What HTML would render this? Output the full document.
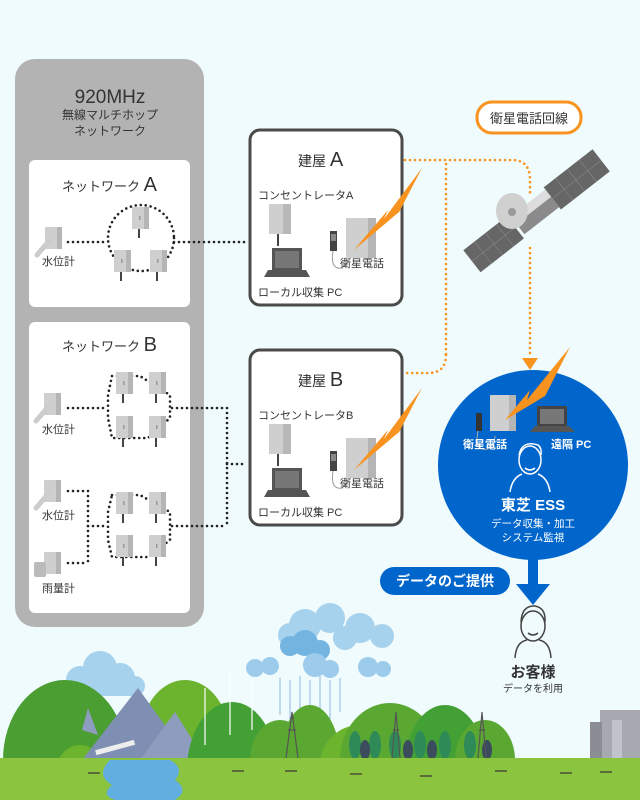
<!DOCTYPE html>
<html><head><meta charset="utf-8"><style>
html,body{margin:0;padding:0;background:#effbfd}
svg{display:block}
text{font-family:"Liberation Sans","Noto Sans CJK JP",sans-serif;fill:#333}
</style></head><body>
<svg width="640" height="800" viewBox="0 0 640 800" xmlns="http://www.w3.org/2000/svg">
<defs>
<g id="cab"><rect x="0" y="0" width="17" height="22" fill="#cfcfcf"/><rect x="12" y="0" width="5" height="22" fill="#b5b5b5"/><rect x="7" y="9" width="1.5" height="4" fill="#999"/><rect x="6" y="22" width="2" height="9" fill="#444"/></g>
<g id="sens"><rect x="0" y="0" width="17" height="22" fill="#cfcfcf"/><rect x="12" y="0" width="5" height="22" fill="#b5b5b5"/><line x1="4" y1="14" x2="-8" y2="28" stroke="#ccc" stroke-width="5" stroke-linecap="round"/></g>
<g id="bld">
<rect x="0" y="0" width="152" height="175" rx="10" fill="#fff" stroke="#4a4a4a" stroke-width="3"/>
<rect x="19" y="74" width="22" height="30" fill="#cfcfcf"/><rect x="33" y="74" width="8" height="30" fill="#b8b8b8"/><rect x="27" y="104" width="2" height="12" fill="#444"/>
<rect x="22" y="118" width="30" height="22" fill="#555"/><rect x="25" y="121" width="24" height="17" fill="#777"/><polygon points="18,140 56,140 60,147 14,147" fill="#555"/>
<rect x="80" y="101" width="7" height="20" fill="#444"/><rect x="81" y="104" width="5" height="7" fill="#888"/><path d="M83,121 Q80,140 92,138 Q100,130 102,125" fill="none" stroke="#999" stroke-width="1"/>
<rect x="96" y="88" width="30" height="40" fill="#cfcfcf"/><rect x="118" y="88" width="8" height="40" fill="#b5b5b5"/>
<polygon points="104,120 138,80 134,89 172,38 145,90 149,82" fill="#f7931e"/>
<text x="90" y="137" font-size="11">衛星電話</text>
<text x="8" y="166" font-size="11">ローカル収集 PC</text>
</g>
</defs>
<rect width="640" height="800" fill="#effbfd"/>

<rect x="15" y="59" width="189" height="568" rx="20" fill="#b3b3b3"/>
<text x="110" y="103" font-size="19" text-anchor="middle">920MHz</text>
<text x="110" y="119" font-size="12" text-anchor="middle">無線マルチホップ</text>
<text x="110" y="135" font-size="12" text-anchor="middle">ネットワーク</text>
<rect x="29" y="160" width="161" height="147" rx="6" fill="#fff"/>
<rect x="29" y="322" width="161" height="291" rx="6" fill="#fff"/>
<text x="62" y="191" font-size="13">ネットワーク <tspan font-size="20">A</tspan></text>
<text x="62" y="351" font-size="13">ネットワーク <tspan font-size="20">B</tspan></text>

<g stroke="#222" stroke-width="2.6" stroke-dasharray="0 5" stroke-linecap="round" fill="none">
<line x1="68" y1="242" x2="108" y2="242"/>
<circle cx="141" cy="238" r="33"/>
<line x1="174" y1="242" x2="246" y2="242"/>
<line x1="68" y1="408" x2="108" y2="408"/>
<polygon points="112,376 140,376 170,395 170,418 148,438 112,438 108,418 108,395"/>
<line x1="172" y1="408" x2="227" y2="408"/>
<line x1="227" y1="408" x2="227" y2="526"/>
<line x1="227" y1="464" x2="246" y2="464"/>
<line x1="172" y1="526" x2="227" y2="526"/>
<polygon points="112,495 140,495 170,512 170,540 148,557 112,557 108,540 108,512"/>
<line x1="68" y1="491" x2="88" y2="491"/><line x1="88" y1="491" x2="88" y2="563"/><line x1="68" y1="563" x2="88" y2="563"/><line x1="88" y1="526" x2="108" y2="526"/>
</g>
<use href="#sens" x="45" y="227"/><text x="42" y="265" font-size="11">水位計</text>
<use href="#cab" x="132" y="207"/><use href="#cab" x="114" y="250"/><use href="#cab" x="150" y="250"/>
<use href="#sens" x="44" y="393"/><text x="42" y="433" font-size="11">水位計</text>
<use href="#cab" x="116" y="372"/><use href="#cab" x="149" y="372"/><use href="#cab" x="116" y="416"/><use href="#cab" x="149" y="416"/>
<use href="#sens" x="44" y="480"/><text x="42" y="519" font-size="11">水位計</text>
<use href="#cab" x="116" y="492"/><use href="#cab" x="149" y="492"/><use href="#cab" x="116" y="535"/><use href="#cab" x="149" y="535"/>
<rect x="44" y="552" width="17" height="22" fill="#cfcfcf"/><rect x="56" y="552" width="5" height="22" fill="#b5b5b5"/>
<rect x="34" y="562" width="12" height="15" rx="2" fill="#bbb"/>
<text x="42" y="592" font-size="11">雨量計</text>

<use href="#bld" x="250" y="130"/>
<use href="#bld" x="250" y="350"/>
<text x="298" y="166" font-size="14">建屋 <tspan font-size="20">A</tspan></text>
<text x="258" y="199" font-size="11">コンセントレータA</text>
<text x="298" y="386" font-size="14">建屋 <tspan font-size="20">B</tspan></text>
<text x="258" y="419" font-size="11">コンセントレータB</text>

<g stroke="#f7931e" stroke-width="2.6" stroke-dasharray="0 5" stroke-linecap="round" fill="none">
<path d="M405,160 H512 Q530,160 530,180 V195"/>
<line x1="446" y1="164" x2="446" y2="355"/>
<path d="M446,355 Q446,373 428,373 H405"/>
<line x1="530" y1="248" x2="530" y2="356"/>
</g>
<polygon points="522,358 538,358 530,370" fill="#f7931e"/>
<rect x="477" y="102" width="104" height="31" rx="15" fill="#fff" stroke="#f7931e" stroke-width="3"/>
<text x="529" y="123" font-size="13" text-anchor="middle">衛星電話回線</text>

<g transform="translate(535,212) rotate(-38)">
<rect x="-80" y="-14" width="55" height="28" fill="#666"/>
<rect x="22" y="-14" width="62" height="28" fill="#666"/>
<g stroke="#888" stroke-width="0.6"><line x1="-66" y1="-14" x2="-66" y2="14"/><line x1="-52" y1="-14" x2="-52" y2="14"/><line x1="-38" y1="-14" x2="-38" y2="14"/><line x1="-80" y1="0" x2="-25" y2="0"/><line x1="37" y1="-14" x2="37" y2="14"/><line x1="52" y1="-14" x2="52" y2="14"/><line x1="67" y1="-14" x2="67" y2="14"/><line x1="22" y1="0" x2="84" y2="0"/></g>
<rect x="-22" y="-11" width="44" height="22" fill="#8a8a8a"/><rect x="-22" y="-11" width="44" height="9" fill="#ddd"/>
</g>
<ellipse cx="512" cy="211" rx="16" ry="18" fill="#d0d0d0"/><circle cx="512" cy="212" r="4" fill="#999"/>

<circle cx="533" cy="465" r="95" fill="#0066cc"/>
<rect x="528" y="555" width="10" height="32" fill="#0066cc"/>
<polygon points="516,584 550,584 533,605" fill="#0066cc"/>
<rect x="490" y="395" width="26" height="36" fill="#cfcfcf"/><rect x="509" y="395" width="7" height="36" fill="#b5b5b5"/>
<rect x="476" y="413" width="6" height="18" fill="#333"/>
<path d="M478,431 Q474,452 488,449 Q495,445 495,436" fill="none" stroke="#aaa" stroke-width="1"/>
<polygon points="505,420 530,390 527,400 570,347 540,406 545,396" fill="#f7931e"/>
<rect x="537" y="406" width="30" height="20" fill="#444"/><rect x="540" y="409" width="24" height="15" fill="#777"/><polygon points="535,426 569,426 575,432 530,432" fill="#555"/>
<text x="463" y="448" font-size="11" style="fill:#fff" font-weight="bold">衛星電話</text>
<text x="551" y="448" font-size="11" style="fill:#fff" font-weight="bold">遠隔 PC</text>
<g fill="none" stroke="#fff" stroke-width="1.5">
<ellipse cx="530" cy="460" rx="11" ry="14"/><path d="M519,455 Q522,440 538,445 Q542,448 541,455"/><path d="M510,492 Q512,478 522,474 M550,492 Q548,478 538,474"/><path d="M525,468 Q530,472 535,468"/>
</g>
<text x="533" y="510" font-size="15" text-anchor="middle" font-weight="bold" style="fill:#fff">東芝 ESS</text>
<text x="533" y="527" font-size="10.5" text-anchor="middle" style="fill:#fff">データ収集・加工</text>
<text x="533" y="541" font-size="10.5" text-anchor="middle" style="fill:#fff">システム監視</text>
<rect x="380" y="567" width="130" height="28" rx="14" fill="#0066cc"/>
<text x="445" y="586" font-size="14" text-anchor="middle" font-weight="bold" style="fill:#fff">データのご提供</text>

<g fill="none" stroke="#444" stroke-width="1.5">
<ellipse cx="533" cy="626" rx="12" ry="15"/><path d="M521,622 Q522,605 535,606 Q546,608 545,622"/><path d="M528,633 Q533,637 538,633"/><path d="M515,658 Q516,642 527,640 M551,658 Q550,642 539,640"/>
</g>
<text x="533" y="677" font-size="15" text-anchor="middle" font-weight="bold">お客様</text>
<text x="533" y="692" font-size="10" text-anchor="middle">データを利用</text>

<!-- landscape -->
<g fill="#a6d2ee">
<circle cx="80" cy="680" r="14"/><circle cx="100" cy="668" r="17"/><circle cx="120" cy="678" r="15"/><circle cx="60" cy="690" r="10"/><circle cx="135" cy="686" r="10"/><rect x="55" y="680" width="85" height="16" rx="8"/>
</g>
<g fill="#a6d2ee">
<circle cx="305" cy="625" r="16"/><circle cx="330" cy="618" r="15"/><circle cx="290" cy="635" r="12"/><circle cx="360" cy="628" r="15"/><circle cx="382" cy="636" r="12"/><circle cx="345" cy="638" r="12"/>
</g>
<g fill="#74b4e0"><circle cx="290" cy="646" r="10"/><circle cx="305" cy="643" r="13"/><circle cx="320" cy="650" r="10"/></g>
<g fill="#9ccbeb"><circle cx="255" cy="668" r="9"/><circle cx="270" cy="666" r="9"/><circle cx="315" cy="665" r="12"/><circle cx="330" cy="669" r="9"/><circle cx="368" cy="667" r="10"/><circle cx="383" cy="669" r="8"/></g>
<g stroke="#8fb8e0" stroke-width="1"><line x1="280" y1="678" x2="280" y2="715"/><line x1="290" y1="680" x2="290" y2="730"/><line x1="300" y1="676" x2="300" y2="720"/><line x1="310" y1="680" x2="310" y2="735"/><line x1="320" y1="676" x2="320" y2="725"/><line x1="330" y1="680" x2="330" y2="730"/><line x1="340" y1="678" x2="340" y2="712"/></g>
<ellipse cx="65" cy="760" rx="62" ry="80" fill="#4a9e32"/>
<ellipse cx="80" cy="775" rx="25" ry="30" fill="#6cb32e"/>
<ellipse cx="185" cy="740" rx="45" ry="60" fill="#6cb32e"/>
<polygon points="82,760 138,688 172,735 190,760" fill="#7f8fb3"/>
<polygon points="140,760 175,712 205,760" fill="#8e9cbe"/>
<polygon points="82,730 88,708 98,735" fill="#8e9cbe"/>
<ellipse cx="232" cy="770" rx="45" ry="68" fill="#43a035"/>
<ellipse cx="280" cy="760" rx="30" ry="40" fill="#5aa832"/>
<ellipse cx="310" cy="760" rx="30" ry="55" fill="#5aa832"/>
<ellipse cx="360" cy="765" rx="40" ry="40" fill="#6cb32e"/>
<ellipse cx="390" cy="760" rx="50" ry="57" fill="#5aa832"/>
<ellipse cx="445" cy="765" rx="40" ry="60" fill="#43a035"/>
<ellipse cx="485" cy="760" rx="30" ry="40" fill="#5aa832"/>
<g stroke="#fff" stroke-width="1.2"><line x1="205" y1="688" x2="205" y2="745"/><line x1="230" y1="670" x2="230" y2="735"/><line x1="252" y1="680" x2="252" y2="730"/></g>
<g fill="#2e8b57"><ellipse cx="355" cy="745" rx="6" ry="14"/><ellipse cx="375" cy="745" rx="6" ry="14"/><ellipse cx="395" cy="745" rx="6" ry="14"/><ellipse cx="420" cy="745" rx="6" ry="14"/><ellipse cx="445" cy="745" rx="6" ry="14"/><ellipse cx="470" cy="745" rx="6" ry="14"/></g>
<g fill="#3b4c5c"><ellipse cx="365" cy="750" rx="5" ry="10"/><ellipse cx="408" cy="750" rx="5" ry="10"/><ellipse cx="432" cy="750" rx="5" ry="10"/><ellipse cx="487" cy="750" rx="5" ry="10"/></g>
<g stroke="#555" stroke-width="1.2" fill="none"><path d="M286,758 L292,712 L298,758 M288,730 H296 M290,718 H294"/><path d="M392,758 L396,712 L400,758 M393,730 H399"/><path d="M478,758 L482,712 L486,758 M479,730 H485"/></g>
<rect x="600" y="710" width="40" height="50" fill="#a8a8b0"/><rect x="590" y="722" width="12" height="38" fill="#8c8c94"/><rect x="612" y="720" width="10" height="40" fill="#c2c2cc"/>
<rect x="0" y="758" width="640" height="42" fill="#8bc43f"/>
<path d="M110,760 Q95,775 112,785 Q100,795 115,800 H175 Q190,790 175,780 Q185,768 170,760 Z" fill="#63aee0"/>
<rect x="95" y="745" width="40" height="5" fill="#eee" transform="rotate(-15 115 747)"/>
<g fill="#5b6b3a"><rect x="88" y="772" width="12" height="2"/><rect x="232" y="770" width="12" height="2"/><rect x="285" y="770" width="12" height="2"/><rect x="350" y="773" width="12" height="2"/><rect x="420" y="775" width="12" height="2"/><rect x="495" y="770" width="12" height="2"/><rect x="560" y="772" width="12" height="2"/><rect x="600" y="771" width="12" height="2"/></g>
</svg>
</body></html>
